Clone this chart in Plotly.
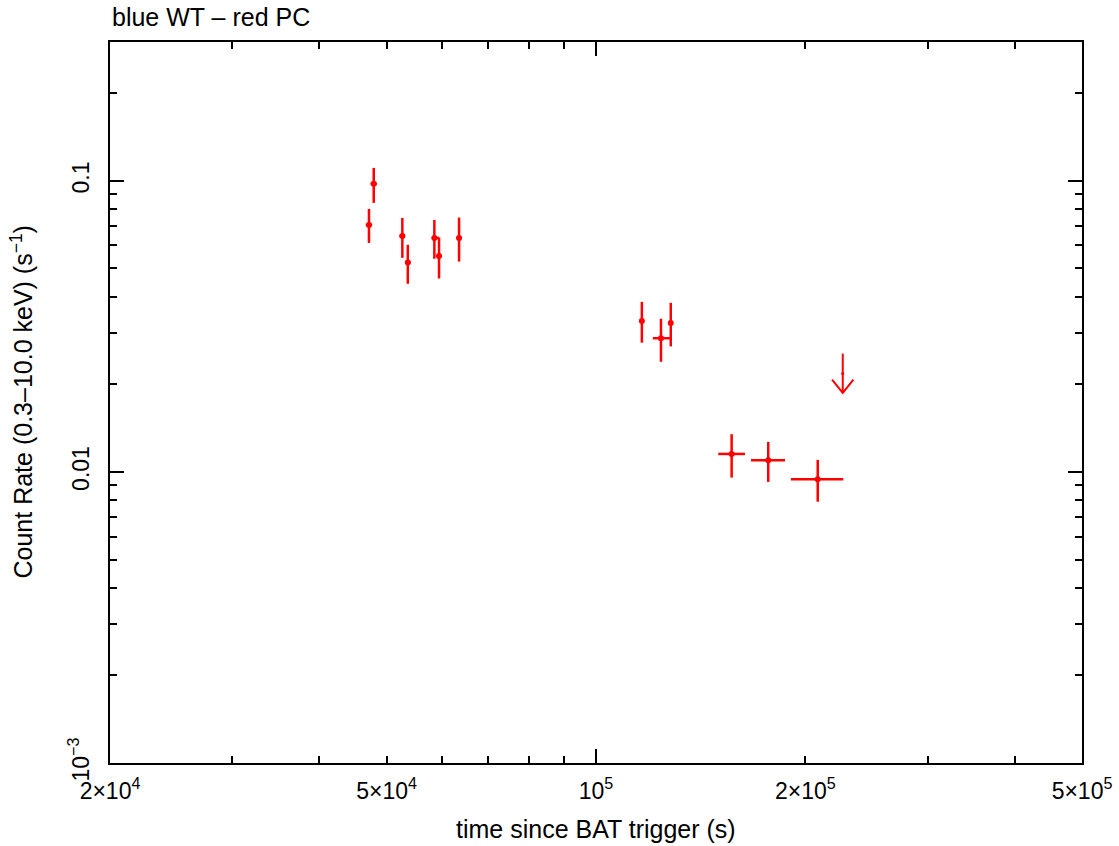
import plotly.graph_objects as go
import numpy as np

# PC mode points (red)
pc_t = [47150, 47900, 52660, 53620, 58550, 59460, 63540, 116400, 124000, 128100, 156700, 176900, 208400]
pc_t_plus = [500, 500, 500, 500, 900, 500, 500, 600, 3800, 600, 7100, 10100, 18400]
pc_t_minus = [500, 500, 500, 500, 500, 500, 500, 600, 3300, 600, 6800, 9800, 17700]
pc_rate = [0.0706, 0.0977, 0.0647, 0.0524, 0.0637, 0.0552, 0.0637, 0.0330, 0.0288, 0.0325, 0.01153, 0.01097, 0.00944]
pc_rate_hi = [0.0801, 0.1108, 0.0746, 0.0603, 0.0734, 0.0639, 0.0748, 0.0384, 0.0336, 0.0381, 0.01348, 0.01268, 0.0110]
pc_rate_lo = [0.0612, 0.0840, 0.0544, 0.0443, 0.0540, 0.0462, 0.0528, 0.0278, 0.0239, 0.0270, 0.00956, 0.00924, 0.00790]

# Upper limit (red arrow)
ul_t = [226400]
ul_rate = [0.0218]
ul_top = [0.0255]
ul_tip = [0.0187]

x_labels = {2e4: "2×10<sup>4</sup>", 5e4: "5×10<sup>4</sup>", 1e5: "10<sup>5</sup>",
            2e5: "2×10<sup>5</sup>", 5e5: "5×10<sup>5</sup>"}
y_labels = {1e-3: "10<sup>−3</sup>", 1e-2: "0.01", 1e-1: "0.1"}

RED = "#ff0000"
FONT = "Liberation Sans, Arial, sans-serif"

err_plus = [h - v for h, v in zip(pc_rate_hi, pc_rate)]
err_minus = [v - l for v, l in zip(pc_rate, pc_rate_lo)]

fig = go.Figure()
fig.add_trace(go.Scatter(
    x=pc_t, y=pc_rate, mode="markers",
    marker=dict(color=RED, size=6),
    error_y=dict(type="data", symmetric=False, array=err_plus, arrayminus=err_minus,
                 color=RED, thickness=2.5, width=0),
    error_x=dict(type="data", symmetric=False, array=pc_t_plus, arrayminus=pc_t_minus,
                 color=RED, thickness=2.5, width=0),
    showlegend=False, hoverinfo="x+y"))

# upper limit: shaft and V head
fig.add_trace(go.Scatter(x=ul_t, y=ul_rate, mode="markers", marker=dict(color=RED, size=3),
                         showlegend=False))
for t, top, tip in zip(ul_t, ul_top, ul_tip):
    fig.add_trace(go.Scatter(x=[t, t], y=[top, tip], mode="lines",
                             line=dict(color=RED, width=2), showlegend=False))
    f, g = 1.036, 1.11
    fig.add_trace(go.Scatter(x=[t / f, t, t * f], y=[tip * g, tip, tip * g], mode="lines",
                             line=dict(color=RED, width=2), showlegend=False))

# invisible trace for overlay axes
fig.add_trace(go.Scatter(x=[1e5], y=[0.01], xaxis="x2", yaxis="y2", mode="markers",
                         marker=dict(opacity=0), showlegend=False, hoverinfo="skip"))

def mults(lo_exp, hi_exp, lo, hi):
    vals = []
    for e in range(lo_exp, hi_exp + 1):
        for m in range(1, 10):
            v = m * 10.0 ** e
            if lo * 0.999 <= v <= hi * 1.001:
                vals.append(v)
    return vals

xt = mults(4, 5, 2e4, 5e5)
yt = mults(-3, -1, 1e-3, 0.3)
xr = [np.log10(2e4), np.log10(5e5)]
yr = [-3, np.log10(0.3)]

def lab(d, v):
    for k, s in d.items():
        if abs(v - k) / k < 1e-6:
            return s
    return ""

common = dict(type="log", showgrid=False, zeroline=False, showline=True, linecolor="black",
              linewidth=2, mirror="allticks", ticks="inside", tickcolor="black", tickwidth=2,
              automargin=False)
TICKSIZE = 23
TITLESIZE = 25

fig.update_layout(
    width=1119, height=846,
    margin=dict(l=110, r=37, t=42, b=83),
    paper_bgcolor="white", plot_bgcolor="white",
    font=dict(family=FONT, size=TITLESIZE, color="black"),
    xaxis=dict(**common, range=xr, tickmode="array", tickvals=xt,
               ticktext=[lab(x_labels, v) for v in xt], ticklen=7,
               tickfont=dict(size=TICKSIZE), ticklabelstandoff=6),
    yaxis=dict(**common, range=yr, tickmode="array", tickvals=yt,
               ticktext=[lab(y_labels, v) for v in yt], ticklen=7, tickangle=-90,
               tickfont=dict(size=TICKSIZE), ticklabelstandoff=10),
    xaxis2=dict(**common, range=xr, overlaying="x", side="bottom", tickmode="array",
                tickvals=[1e5], showticklabels=False, ticklen=14),
    yaxis2=dict(**common, range=yr, overlaying="y", side="left", tickmode="array",
                tickvals=[1e-3, 1e-2, 1e-1], showticklabels=False, ticklen=14),
    annotations=[
        dict(text="time since BAT trigger (s)", xref="paper", yref="paper", x=0.5, y=0,
             xanchor="center", yanchor="middle", yshift=-66, showarrow=False,
             font=dict(size=TITLESIZE)),
        dict(text="Count Rate (0.3–10.0 keV) (s<sup>−1</sup>)", xref="paper", yref="paper",
             x=0, y=0.5, xanchor="center", yanchor="middle", xshift=-89, textangle=-90,
             showarrow=False, font=dict(size=TITLESIZE)),
        dict(text="blue WT – red PC", xref="paper", yref="paper", x=0, y=1,
             xanchor="left", yanchor="middle", yshift=25, showarrow=False,
             font=dict(size=TITLESIZE)),
    ],
)
fig.write_html("out.html", config={"displayModeBar": False},
               post_script="document.body.style.margin='0';")
